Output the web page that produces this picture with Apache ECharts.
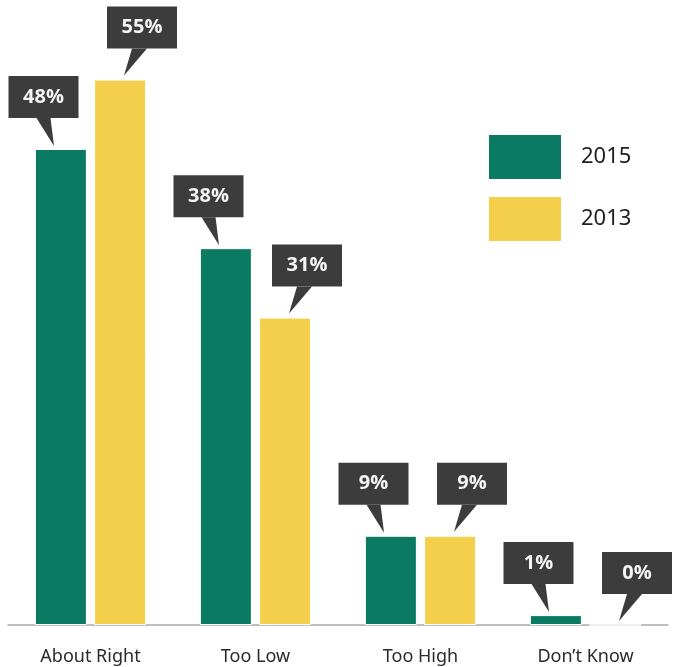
<html lang="en">
<head>
    <meta charset="UTF-8">
    <title>Bars</title>
    <script src="https://cdn.jsdelivr.net/npm/echarts@6/dist/echarts.min.js"></script>
</head>
<body style="margin:0">
<div id="mychart" style="width: 674px;height: 667px;"></div>
<script>
    var categories = ['About Right', 'Too Low', 'Too High', 'Don\u2019t Know'];
    var years = ['2015', '2013'];
    var v2015 = [48, 38, 9, 1];
    var v2013 = [55, 31, 9, 0];

    var green = '#0b7a62';
    var yellow = '#f3cf4c';
    var boxColor = '#3c3c3c';

    // callout: side = -1 for left bar (box leans left), +1 for right bar
    function callout(side) {
        return function (params, api) {
            var idx = api.value(0);
            var val = api.value(1);
            var p = api.coord([idx, val]);
            var cx = p[0] + side * 29.5;
            var ty = p[1];
            var bx, pts;
            if (side < 0) {
                bx = cx - 52.5;
                pts = [[cx - 24.5, ty - 31], [cx - 10.5, ty - 31], [cx - 7, ty - 3]];
            } else {
                bx = cx - 13;
                pts = [[cx + 12, ty - 31], [cx + 27, ty - 31], [cx + 4, ty - 4]];
            }
            return {
                type: 'group',
                children: [
                    {type: 'polygon', shape: {points: pts}, style: {fill: boxColor}},
                    {type: 'rect', shape: {x: bx, y: ty - 73, width: 70, height: 42}, style: {fill: boxColor}},
                    {
                        type: 'text',
                        style: {
                            x: bx + 35, y: ty - 52,
                            text: val + '%',
                            fill: '#f4f4f4',
                            font: 'bold 20px "Open Sans", sans-serif',
                            align: 'center',
                            verticalAlign: 'middle'
                        }
                    }
                ]
            };
        };
    }

    var e = echarts.init(document.getElementById('mychart'));
    var op = {
        animation: false,
        grid: {left: 8, right: 6, top: 30, bottom: 42},
        legend: {
            data: years,
            orient: 'vertical',
            left: 482,
            top: 128,
            icon: 'rect',
            itemWidth: 74,
            itemHeight: 46,
            itemGap: 14,
            textStyle: {fontSize: 22, color: '#222', fontFamily: 'Noto Sans', padding: [0, 0, 0, 14]}
        },
        xAxis: {
            type: 'category',
            data: categories,
            axisTick: {show: false},
            axisLine: {lineStyle: {color: '#aaa', width: 1.5}},
            axisLabel: {fontSize: 18, color: '#2a2a2a', fontFamily: 'Noto Sans', margin: 23}
        },
        yAxis: {type: 'value', min: 0, max: 60, show: false},
        series: [
            {
                name: '2015', type: 'bar', data: v2015, barWidth: 52, barGap: '14%',
                itemStyle: {color: green, borderColor: '#fff', borderWidth: 1}
            },
            {
                name: '2013', type: 'bar', data: v2013, barWidth: 52, barGap: '14%',
                itemStyle: {color: yellow, borderColor: '#fff', borderWidth: 1}
            },
            {
                name: 'c2015', type: 'custom', renderItem: callout(-1), clip: false, z: 5,
                encode: {x: 0, y: 1},
                data: v2015.map(function (v, i) { return [i, v]; })
            },
            {
                name: 'c2013', type: 'custom', renderItem: callout(1), clip: false, z: 5,
                encode: {x: 0, y: 1},
                data: v2013.map(function (v, i) { return [i, v]; })
            }
        ]
    };
    e.setOption(op);
</script>
</body>
</html>
